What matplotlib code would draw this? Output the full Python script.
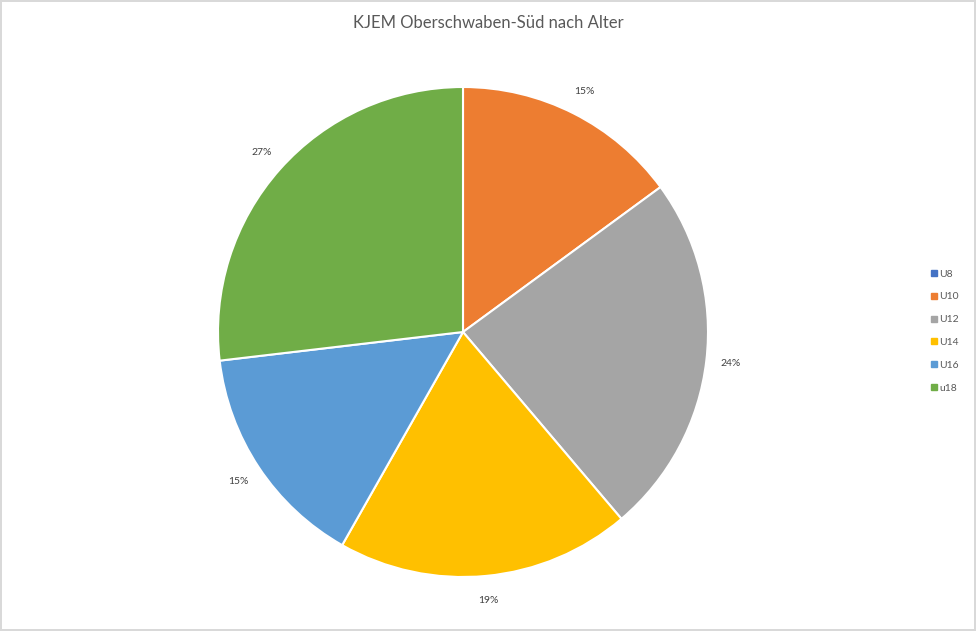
import matplotlib
matplotlib.use('Agg')
import matplotlib.pyplot as plt
from matplotlib.lines import Line2D

labels = ['U8', 'U10', 'U12', 'U14', 'U16', 'u18']
values = [0, 10, 16, 13, 10, 18]
colors = ['#4472C4', '#ED7D31', '#A5A5A5', '#FFC000', '#5B9BD5', '#70AD47']
title = 'KJEM Oberschwaben-Süd nach Alter'

plt.rcParams['font.family'] = ['Lato', 'DejaVu Sans']

fig = plt.figure(figsize=(9.76, 6.31), dpi=100)
fig.patch.set_edgecolor('#D9D9D9')
fig.patch.set_linewidth(1.5)

# pie centre ~ (463, 332) px, radius ~245 px
ax = fig.add_axes([218 / 976, (631 - 577) / 631, 490 / 976, 490 / 631])
wedges, texts, autotexts = ax.pie(
    values, colors=colors, startangle=90, counterclock=False,
    autopct=lambda p: f'{p:.0f}%' if p > 0 else '',
    pctdistance=1.1, radius=1,
    wedgeprops=dict(edgecolor='white', linewidth=1.5),
    textprops=dict(color='#404040', fontsize=7.5))
ax.set_xlim(-1, 1)
ax.set_ylim(-1, 1)
ax.set_aspect('equal')

fig.text(488 / 976, 1 - 23 / 631, title, ha='center', va='center',
         fontsize=12, color='#595959')

handles = [Line2D([], [], marker='s', linestyle='', markersize=4,
                  markerfacecolor=c, markeredgecolor=c) for c in colors]
leg = fig.legend(handles, labels, loc='center left',
                 bbox_to_anchor=(925 / 976, 1 - 331 / 631), frameon=False,
                 fontsize=7.5, labelspacing=1.3, handletextpad=0.1,
                 handlelength=0.8, borderpad=0)
for t in leg.get_texts():
    t.set_color('#595959')

fig.savefig('out.png', dpi=100, edgecolor=fig.get_edgecolor())
